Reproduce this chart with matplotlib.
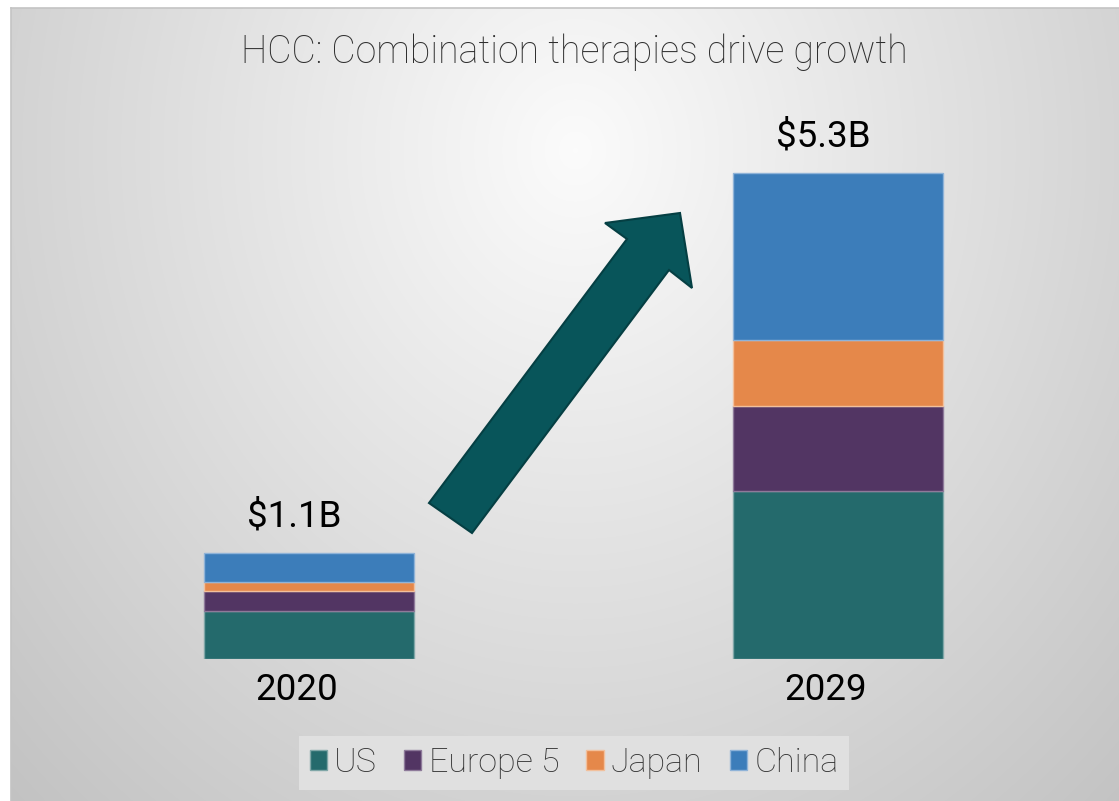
import numpy as np
import matplotlib
matplotlib.use('Agg')
import matplotlib.pyplot as plt
from matplotlib.patches import Polygon, Patch
import matplotlib.transforms as mtransforms

# ---------------- data ----------------
years = ['2020', '2029']
regions = ['US', 'Europe 5', 'Japan', 'China']
us = [0.52, 1.83]
europe5 = [0.22, 0.93]
japan = [0.10, 0.72]
china = [0.32, 1.82]
total_labels = ['$1.1B', '$5.3B']
colors = ['#246A6C', '#523563', '#E5884A', '#3C7DBA']
edge_colors = ['#7fa6a7', '#8e7a9a', '#f2c09c', '#8fb3d8']
title = 'HCC: Combination therapies drive growth'

W, H = 1119, 801
fig = plt.figure(figsize=(W / 100, H / 100), dpi=100)
fig.patch.set_facecolor('white')

FONT = ['Roboto', 'DejaVu Sans']

# ---------------- background gradient ----------------
bx0, by0 = 11, 8
bg = fig.add_axes([bx0 / W, 0, (W - bx0) / W, (H - by0) / H])
yy, xx = np.mgrid[0:H - by0, 0:W - bx0]
px = xx + bx0
py = yy + by0
cx, cy = 575, 150
d = np.sqrt(((px - cx) / 720.0) ** 2 + ((py - cy) / 820.0) ** 2)
val = np.clip(0.985 - 0.20 * d, 0.76, 1.0)
img = np.dstack([val, val, val])
bg.imshow(img, aspect='auto', extent=[0, 1, 0, 1], origin='upper', interpolation='bilinear')
bg.set_xlim(0, 1)
bg.set_ylim(0, 1)
bg.set_xticks([])
bg.set_yticks([])
for s in ['right', 'bottom']:
    bg.spines[s].set_visible(False)
for s in ['top', 'left']:
    bg.spines[s].set_color('#c4c4c4')
    bg.spines[s].set_linewidth(1.2)

# ---------------- bars ----------------
px_per_unit = 91.7
ax_left, ax_w = 44.5, 1058
ax_base, ax_h = 659, 596
ax = fig.add_axes([ax_left / W, (H - ax_base) / H, ax_w / W, ax_h / H])
ax.patch.set_alpha(0)
ax.set_xlim(-0.5, 1.5)
ax.set_ylim(0, ax_h / px_per_unit)
ax.axis('off')

x = np.arange(len(years))
series = [us, europe5, japan, china]
bottom = np.zeros(len(years))
for vals, c, ec in zip(series, colors, edge_colors):
    ax.bar(x, vals, bottom=bottom, width=0.397, color=c, edgecolor=ec, linewidth=1.0, zorder=3)
    bottom = bottom + np.array(vals)

lab_tr = mtransforms.offset_copy(ax.transData, fig=fig, x=-15, y=26, units='dots')
yr_tr = mtransforms.offset_copy(ax.transData, fig=fig, x=-12, y=-41, units='dots')
for xi, tot, lab, yr in zip(x, bottom, total_labels, years):
    ax.text(xi, tot, lab, ha='center', va='baseline', fontsize=26.5, color='black',
            family=FONT, transform=lab_tr)
    ax.text(xi, 0, yr, ha='center', va='baseline', fontsize=26.5, color='black',
            family=FONT, transform=yr_tr)

# ---------------- arrow ----------------
arrow_px = [(429, 503), (627, 239), (605, 223), (680, 213), (692, 288), (669, 270), (472, 533)]
arrow_pts = [(a / W, 1 - b / H) for a, b in arrow_px]
fig.patches.append(Polygon(arrow_pts, closed=True, facecolor='#08555A', edgecolor='#053f43',
                           linewidth=1.5, transform=fig.transFigure, zorder=5))

# ---------------- title ----------------
fig.text(574 / W, 1 - 63 / H, title, ha='center', va='baseline', fontsize=27,
         fontweight='light', color='#2e2e2e', family=FONT)

# ---------------- legend ----------------
handles = [Patch(facecolor=c, edgecolor=ec, linewidth=1.0) for c, ec in zip(colors, edge_colors)]
leg = fig.legend(handles, regions, loc='center', bbox_to_anchor=(574 / W, 1 - 763 / H),
                 ncol=4, frameon=True, fancybox=False, facecolor='#e0e0e0', edgecolor='none',
                 framealpha=1, handlelength=0.5, handleheight=0.5, handletextpad=0.22,
                 columnspacing=0.8, borderpad=0.32,
                 prop={'family': FONT, 'size': 24.5, 'weight': 'light'})
for t in leg.get_texts():
    t.set_color('#333333')

fig.savefig('out.png', dpi=100)
